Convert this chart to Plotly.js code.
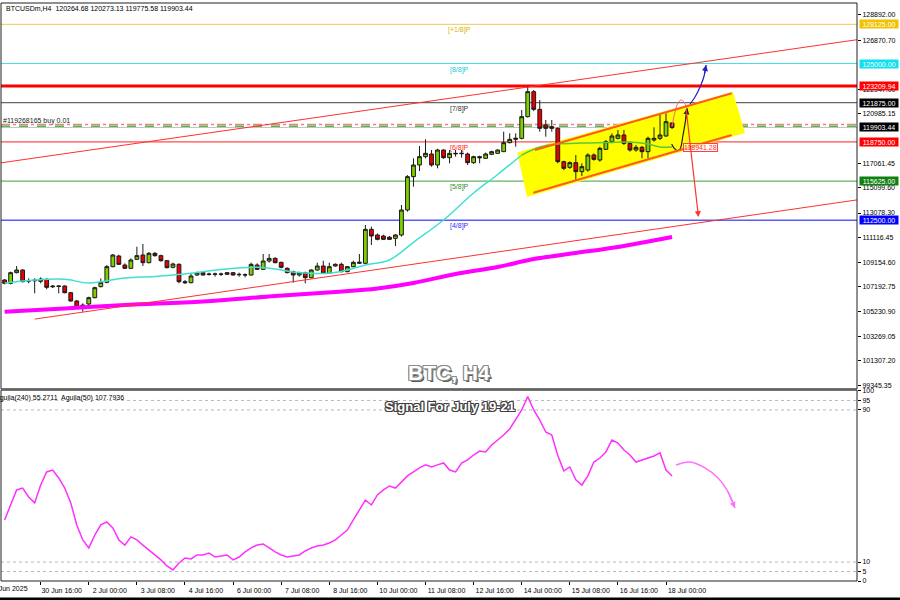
<!DOCTYPE html>
<html><head><meta charset="utf-8">
<script src="https://cdn.plot.ly/plotly-3.0.1.min.js"></script>
<style>html,body{margin:0;padding:0;background:#fff;}#chart{width:900px;height:600px;}</style>
</head><body><div id="chart"></div>
<script>
// ---------- DATA (BTCUSDm, H4, first bar 29 Jun 2025 16:00) ----------
const openP = [107739,107474,108324,108537,107686,107739,107633,107792,107261,107261,107261,106729,106065,105480,105826,106331,107208,107553,108803,109653,
108935,108670,109387,109733,109121,109866,109680,109281,108749,108989,107607,107527,108138,108324,108218,108191,108218,108191,108324,108191,
108138,108138,108935,108590,109254,109467,109148,108670,108404,108138,108324,107925,108537,108856,108271,108856,108989,108404,108803,109068,
109068,111779,111328,111248,111150,111062,111328,113321,115979,116908,117573,117786,116908,118105,117493,117839,117810,117786,117095,117573,
117440,117759,117839,117972,118690,118955,119035,120762,122755,121347,120098,119965,119832,117174,116722,117095,116377,116510,117706,117307,
118158,118769,119035,119301,118636,118105,118317,117972,118902,119035,119221,120264.68];
const highP = [107819,108404,108856,108590,107872,107872,107952,107872,107341,107314,107314,106783,106144,105879,106410,107208,107872,108935,109812,109759,
109068,109467,110397,110610,109972,109972,109759,109334,109121,109068,107739,108271,108404,108404,108324,108324,108324,108377,108377,108324,
108271,109121,109068,109812,109812,109547,109201,108749,108484,108404,108404,108590,109121,109281,109121,109068,109121,108856,109281,109812,
112125,111992,111450,111350,111250,111400,113720,116100,117440,118424,118955,118105,118200,118150,118105,118105,118105,117900,117650,117650,
117900,118050,118150,119567,119434,119434,121294,123210,122888,122091,120496,120496,119912,117250,117200,117706,117040,117839,117839,118370,
118902,119433,119699,119699,118769,118503,118423,119168,119912,120895,121028,120273.13];
const lowP = [107394,107394,108271,107553,107474,106676,107474,106995,107102,106676,106676,106012,105427,105214,105613,106277,107155,107474,108749,108935,
108616,108616,109334,108856,109068,109600,109201,108670,108670,107474,107421,107474,108058,108085,108085,108005,108058,108138,108085,108005,
107952,108085,108537,108537,109121,109068,108670,108271,107527,108005,107474,107872,108484,108218,108218,108803,108351,108351,108749,109015,
109015,110530,110900,110930,110920,110451,111200,113188,115181,116430,117440,116776,116643,117400,117042,117573,117493,116908,117000,117042,
117400,117700,117786,117950,118636,118371,118950,120700,121200,119566,119168,119566,117040,116500,116600,115713,116032,116377,117254,117174,
118105,118636,118955,118503,117972,117972,117440,117440,118769,118902,119168,119775.58];
const closeP = [107474,108324,108537,107607,107660,107686,107819,107155,107208,107235,106729,106065,105480,105746,106331,107128,107553,108803,109733,108989,
108670,109334,109680,109121,109866,109680,109281,108723,109015,107607,107527,108058,108324,108138,108191,108218,108200,108324,108138,108165,
108150,108989,108590,109254,109467,109121,108749,108324,108138,108324,107925,108537,108856,108271,108803,108989,108404,108803,109148,109148,
111779,111248,110982,110982,110980,111328,113321,115979,116908,117573,117839,116908,118105,117493,117839,117810,117840,117095,117573,117490,
117786,117972,118105,118690,118955,119035,120762,122755,121347,119832,119832,119832,117174,116643,117095,116377,116775,117706,117361,118237,
118769,119221,119301,118636,118105,118317,117972,119035,119035,119301,120364,119903.44];

// Aguila(240) oscillator, one value per bar
const aguila240 = [32.1,40.0,47.9,48.9,44.2,41.1,50.5,57.4,58.4,54.2,48.9,41.1,29.5,21.6,17.4,24.2,29.5,31.1,27.9,21.6,
18.9,23.2,21.6,18.9,16.3,13.7,11.1,7.9,5.8,9.5,12.1,11.6,13.7,13.7,14.7,12.6,13.2,13.7,11.1,12.6,
15.3,17.4,18.9,19.5,17.4,15.3,13.7,12.6,13.2,13.7,15.8,17.4,18.4,18.9,20.0,21.6,24.2,26.8,32.1,37.4,
42.6,40.0,45.3,47.9,50.0,48.9,52.1,55.3,57.4,59.5,61.1,60.0,61.1,62.1,58.4,57.4,62.1,63.7,66.3,68.4,
67.9,71.6,74.2,76.8,80.0,84.7,90.0,97.0,90.0,84.7,78.4,76.8,66.0,58.0,60.0,53.2,50.5,55.3,62.6,64.7,
67.9,74.2,72.6,68.9,66.3,62.6,63.7,64.7,65.8,67.4,58.4,55.27];

// fast moving average (cyan), read at these bars; part inside the channel looks green
const maFastBars = [0,5,10,14,20,25,31,36,42,45,48,51,54,57,60,64,68,73,78,82,86];
const maFastVals = [107500,107740,107795,107500,107900,108020,108273,108577,108750,108617,108378,108273,108273,108537,108935,109334,110745,112523,114676,116151,117706];
const maFastInBars = [86,89,92,96,100,104,107,109,111];
const maFastInVals = [117706,118344,118583,118663,118703,118743,118583,118344,118344];
// slow moving average (magenta)
const maSlowBars = [0,10,20,33,45,55,62,68,75,82,88,95,102,111];
const maSlowVals = [105212,105467,105747,106026,106464,106783,107062,107500,108218,108776,109414,109892,110370,111167];

// Murrey levels
const levelPrices = [128125,125000,121875,118750,115625,112500];
const levelNames  = ['[+1/8]P','[8/8]P','[7/8]P','[6/8]P','[5/8]P','[4/8]P'];
const levelLine   = ['#f0c850','#48e0e8','#404040','#ff2020','#3ca03c','#5a5aff'];
const levelText   = ['#e0b000','#20c8d8','#303030','#ff2020','#2e8b2e','#3030ff'];
const levelBox    = ['#f2c200','#10e0f0','#000000','#ff0000','#108010','#0000ff'];
const highLevel = 123209.94;
const lastPrice = 119903.44;
const orderPrice = 120140;
const stopPrice = 119990;
const extraLabel = '118941.28';

// axes ticks
const yTickVals = [128892.00,126870.70,122947.00,120985.15,117061.45,115099.60,113078.30,111116.45,109154.60,107192.75,105230.90,103269.05,101307.20,99345.35];
const xTickDates = ['2025-06-30 16:00','2025-07-02 00:00','2025-07-03 08:00','2025-07-04 16:00','2025-07-06 00:00','2025-07-07 08:00','2025-07-08 16:00','2025-07-10 00:00','2025-07-11 08:00','2025-07-12 16:00','2025-07-14 00:00','2025-07-15 08:00','2025-07-16 16:00','2025-07-18 00:00'];
const xTickLabels = ['30 Jun 16:00','2 Jul 00:00','3 Jul 08:00','4 Jul 16:00','6 Jul 00:00','7 Jul 08:00','8 Jul 16:00','10 Jul 00:00','11 Jul 08:00','12 Jul 16:00','14 Jul 00:00','15 Jul 08:00','16 Jul 16:00','18 Jul 00:00'];
const aguilaLevels = [95,90,10,5];

// drawn objects (bar offset, price)
const trendUpK = [-1,142], trendUpP = [117052,126915];
const trendLoK = [5,142],  trendLoP = [104622,114142];
const chanK = [85.25,121.14,123.13,86.88], chanP = [117905,122729,119460,114357];
const chanTopK = [88.21,120.92], chanTopP = [118104,122625];
const chanBotK = [87.93,120.92], chanBotP = [114700,119300];
const pathBlackK = [110.94,111.32,111.82,112.33,112.83,113.25,113.54], pathBlackP = [118583,118264,118064,118184,119300,120496,121429];
const pathPinkK = [110.99,111.49,111.99,112.49,112.99,113.49], pathPinkP = [119938,121134,121852,122091,121932,121294];
const arrowRedK = [113.32,115.40], arrowRedP = [121453,112762];
const pathBlueK = [114.0,114.82,115.66,116.33,116.66], pathBlueP = [121772,122330,123127,124005,124882];
const pathIndK = [111.66,113.99,116.48,118.65,120.14,121.47], pathIndV = [61.05,62.6,59.5,54.2,47.9,38.4];

// ---------- BUILD ----------
const startUTC = Date.UTC(2025,5,29,16,0,0);
function t(k){ return new Date(startUTC + k*4*3600*1000).toISOString().slice(0,19).replace('T',' '); }
const times = openP.map((_,i)=>t(i));
const F = 'Liberation Sans, Arial, sans-serif';
const px = x => (x-1)/856, py = y => (581-y)/578;

const traces = [];
traces.push({type:'candlestick', x:times, open:openP, high:highP, low:lowP, close:closeP, xaxis:'x', yaxis:'y',
  increasing:{line:{color:'#1a1a1a',width:1}, fillcolor:'#7ed000'},
  decreasing:{line:{color:'#1a1a1a',width:1}, fillcolor:'#e80000'},
  whiskerwidth:0, hoverinfo:'skip'});
traces.push({type:'scatter', mode:'lines', x:maSlowBars.map(t), y:maSlowVals, line:{color:'#ff00ff',width:4,shape:'spline'}, hoverinfo:'skip'});
traces.push({type:'scatter', mode:'lines', x:maFastBars.map(t), y:maFastVals, line:{color:'#40e0d0',width:1.5,shape:'spline'}, hoverinfo:'skip'});
traces.push({type:'scatter', mode:'lines', x:maFastInBars.map(t), y:maFastInVals, line:{color:'#5cc83a',width:1.5,shape:'spline'}, hoverinfo:'skip'});
traces.push({type:'scatter', mode:'lines', x:pathBlackK.map(t), y:pathBlackP, line:{color:'#202020',width:1.2,shape:'spline'}, hoverinfo:'skip'});
traces.push({type:'scatter', mode:'lines', x:pathPinkK.map(t), y:pathPinkP, line:{color:'#ff6080',width:1,shape:'spline'}, hoverinfo:'skip'});
traces.push({type:'scatter', mode:'lines', x:pathBlueK.map(t), y:pathBlueP, line:{color:'#2020c0',width:1.2,shape:'spline'}, hoverinfo:'skip'});
traces.push({type:'scatter', mode:'lines', x:times, y:aguila240, xaxis:'x', yaxis:'y2', line:{color:'#ff30ff',width:1.5}, hoverinfo:'skip'});
traces.push({type:'scatter', mode:'lines', x:pathIndK.map(t), y:pathIndV, xaxis:'x', yaxis:'y2', line:{color:'#ff70ff',width:1.5,shape:'spline'}, hoverinfo:'skip'});

const shapes = [];
// yellow channel
shapes.push({type:'path', xref:'x', yref:'y', layer:'below', fillcolor:'#ffff00', line:{width:0},
  path: chanK.map((k,i)=>(i?'L':'M')+t(k).replace(' ','_')+','+chanP[i]).join(' ')+' Z'});
levelPrices.forEach((p,i)=>shapes.push({type:'line', xref:'paper', yref:'y', x0:0, x1:1, y0:p, y1:p, layer:'below', line:{color:levelLine[i], width:i===5?1.5:1}}));
shapes.push({type:'line', xref:'paper', yref:'y', x0:0, x1:1, y0:highLevel, y1:highLevel, layer:'below', line:{color:'#ff0000', width:3}});
shapes.push({type:'line', xref:'paper', yref:'y', x0:0, x1:1, y0:orderPrice, y1:orderPrice, layer:'below', line:{color:'#f08080', width:1.5, dash:'dashdot'}});
shapes.push({type:'line', xref:'paper', yref:'y', x0:0, x1:1, y0:stopPrice, y1:stopPrice, layer:'below', line:{color:'#40c040', width:1.5, dash:'dash'}});
shapes.push({type:'line', xref:'paper', yref:'y', x0:0, x1:1, y0:lastPrice, y1:lastPrice, layer:'below', line:{color:'#c0c0c0', width:1}});
shapes.push({type:'line', xref:'x', yref:'y', x0:t(trendUpK[0]), x1:t(trendUpK[1]), y0:trendUpP[0], y1:trendUpP[1], line:{color:'#ff3030', width:1}});
shapes.push({type:'line', xref:'x', yref:'y', x0:t(trendLoK[0]), x1:t(trendLoK[1]), y0:trendLoP[0], y1:trendLoP[1], line:{color:'#ff3030', width:1}});
shapes.push({type:'line', xref:'x', yref:'y', x0:t(chanTopK[0]), x1:t(chanTopK[1]), y0:chanTopP[0], y1:chanTopP[1], line:{color:'#ff5a1e', width:2}});
shapes.push({type:'line', xref:'x', yref:'y', x0:t(chanBotK[0]), x1:t(chanBotK[1]), y0:chanBotP[0], y1:chanBotP[1], line:{color:'#ff5a1e', width:2}});
aguilaLevels.forEach(v=>shapes.push({type:'line', xref:'paper', yref:'y2', x0:0, x1:1, y0:v, y1:v, layer:'below', line:{color:'#b8b8b8', width:1, dash:'dot'}}));
// panel frames
shapes.push({type:'rect', xref:'paper', yref:'paper', x0:0, x1:1, y0:py(389), y1:1, line:{color:'#202020', width:1}});
shapes.push({type:'rect', xref:'paper', yref:'paper', x0:0, x1:1, y0:0, y1:py(390), line:{color:'#202020', width:1}});
shapes.push({type:'line', xref:'paper', yref:'paper', x0:0, x1:1, y0:py(389.5), y1:py(389.5), line:{color:'#606060', width:2}});
shapes.push({type:'line', xref:'paper', yref:'paper', x0:px(0), x1:px(900), y0:py(599), y1:py(599), line:{color:'#000', width:3}});

const annotations = [];
annotations.push({xref:'paper', yref:'paper', x:px(4), y:py(8), xanchor:'left', yanchor:'middle', showarrow:false,
  text:'BTCUSDm,H4  120264.68 120273.13 119775.58 119903.44', font:{family:F, size:7, color:'#000'}});
annotations.push({xref:'paper', yref:'paper', x:px(1), y:py(121), xanchor:'left', yanchor:'middle', showarrow:false,
  text:'#119268165 buy 0.01', font:{family:F, size:7, color:'#202020'}});
annotations.push({xref:'paper', yref:'paper', x:px(-7), y:py(397.5), xanchor:'left', yanchor:'middle', showarrow:false,
  text:'Aguila(240) 55.2711  Aguila(50) 107.7936', font:{family:F, size:7, color:'#000'}});
annotations.push({xref:'paper', yref:'paper', x:px(30.5), y:py(588.5), xanchor:'right', yanchor:'middle', showarrow:false,
  text:'29 Jun 2025', font:{family:F, size:7, color:'#000'}});
levelPrices.forEach((p,i)=>annotations.push({xref:'x', yref:'y', x:t(75.57), y:p, yshift:-6, xanchor:'center', yanchor:'middle', showarrow:false,
  text:levelNames[i], font:{family:F, size:7, color:levelText[i]}}));
// right price boxes
const boxes = levelPrices.map((p,i)=>[p,levelBox[i]]).concat([[highLevel,'#ff0000'],[lastPrice,'#000000']]);
boxes.forEach(([p,c])=>annotations.push({xref:'paper', yref:'y', x:px(859), y:p, xanchor:'left', yanchor:'middle', showarrow:false,
  text:p.toFixed(2), bgcolor:c, width:38, height:8, borderpad:0, font:{family:F, size:7, color:'#ffffff'}}));
annotations.push({xref:'x', yref:'y', x:t(115.65), y:118344, xanchor:'center', yanchor:'middle', showarrow:false,
  text:extraLabel, bordercolor:'#ff4040', borderwidth:1, borderpad:0, bgcolor:'rgba(255,255,255,0.6)', font:{family:F, size:7, color:'#ff3030'}});
// arrow heads / straight arrow
function arrowHead(k, v, kFrom, vFrom, col, yref){ annotations.push({xref:'x', yref:yref, axref:'x', ayref:yref, x:t(k), y:v, ax:t(kFrom), ay:vFrom, text:'', showarrow:true, arrowhead:2, arrowsize:1, arrowwidth:1.2, arrowcolor:col}); }
arrowHead(pathBlackK[6], pathBlackP[6], pathBlackK[5], pathBlackP[5], '#202020', 'y');
arrowHead(arrowRedK[1], arrowRedP[1], arrowRedK[0], arrowRedP[0], '#ff3030', 'y');
arrowHead(pathBlueK[4], pathBlueP[4], pathBlueK[3], pathBlueP[3], '#2020c0', 'y');
arrowHead(pathIndK[5], pathIndV[5], pathIndK[4], pathIndV[4], '#ff70ff', 'y2');
// outlined titles
function outlined(text, x, y, size, edge, shadow){
  const base = {xref:'paper', yref:'paper', x:px(x), y:py(y), xanchor:'center', yanchor:'middle', showarrow:false, text:'<b>'+text+'</b>'};
  if(shadow) annotations.push(Object.assign({}, base, {xshift:2, yshift:-2, font:{family:F, size, color:shadow}}));
  [[-1,0],[1,0],[0,-1],[0,1],[-1,-1],[1,1],[-1,1],[1,-1]].forEach(([dx,dy])=>annotations.push(Object.assign({}, base, {xshift:dx, yshift:dy, font:{family:F, size, color:edge}})));
  annotations.push(Object.assign({}, base, {font:{family:F, size, color:'#ffffff'}}));
}
outlined('BTC, H4', 449, 372, 21, '#8a8a8a', '#5a5a5a');
outlined('Signal For July 19-21', 450, 406.5, 13, '#404040', null);

const layout = {
  width:900, height:600, margin:{l:1, r:43, t:3, b:19},
  paper_bgcolor:'#ffffff', plot_bgcolor:'#ffffff', showlegend:false, hovermode:false,
  font:{family:F, size:7, color:'#000'}, boxgap:0.1,
  xaxis:{type:'date', range:[t(-0.599), t(141.76)], anchor:'y2', tickvals:xTickDates, ticktext:xTickLabels,
    ticks:'outside', ticklen:3, tickcolor:'#000', showgrid:false, zeroline:false, showline:false,
    rangeslider:{visible:false}, ticklabelshift:21, tickfont:{family:F, size:7, color:'#000'}},
  yaxis:{domain:[py(389),1], range:[99049,129825], side:'right', anchor:'x', tickvals:yTickVals, ticktext:yTickVals.map(v=>v.toFixed(2)),
    ticks:'outside', ticklen:3, tickcolor:'#000', showgrid:false, zeroline:false, showline:false, tickfont:{family:F, size:7, color:'#000'}},
  yaxis2:{domain:[0,py(390)], range:[0,100.5], side:'right', anchor:'x', tickvals:[0,5,10,90,95,100], ticktext:['0','5','10','90','95','100'],
    ticks:'outside', ticklen:3, tickcolor:'#000', showgrid:false, zeroline:false, showline:false, tickfont:{family:F, size:7, color:'#000'}},
  shapes, annotations
};
Plotly.newPlot('chart', traces, layout, {displayModeBar:false, staticPlot:true});
</script></body></html>
